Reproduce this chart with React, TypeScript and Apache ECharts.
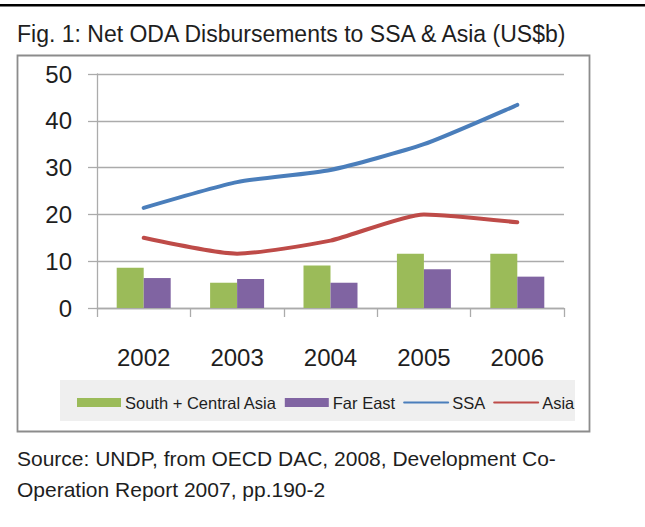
import React, { useEffect, useRef } from "react";
import * as echarts from "echarts";

const years = ["2002", "2003", "2004", "2005", "2006"];
const southCentralAsia = [8.6, 5.4, 9.1, 11.6, 11.6];
const farEast = [6.4, 6.2, 5.4, 8.3, 6.7];
const ssa = [21.4, 26.9, 29.5, 35.0, 43.4];
const asia = [15.0, 11.6, 14.4, 20.0, 18.3];
const yTicks = { min: 0, max: 50, interval: 10 };

const titleText = "Fig. 1: Net ODA Disbursements to SSA & Asia (US$b)";
const sourceLines = [
  "Source: UNDP, from OECD DAC, 2008, Development Co-",
  "Operation Report 2007, pp.190-2",
];

const FONT = "'Liberation Sans', Arial, sans-serif";
const TEXT = "#1e1e1e";
const GRID = "#ababab";

export default function App() {
  const ref = useRef<HTMLDivElement>(null);
  useEffect(() => {
    if (!ref.current) return;
    const chart = echarts.init(ref.current, undefined, { renderer: "svg" });
    chart.setOption({
      animation: false,
      backgroundColor: "#ffffff",
      textStyle: { fontFamily: FONT },
      grid: { left: 97, right: 81, top: 74, bottom: 219, containLabel: false },
      legend: {
        left: 72,
        top: 389,
        itemWidth: 44,
        itemHeight: 9,
        itemGap: 8,
        textStyle: { fontFamily: FONT, fontSize: 16.5, color: TEXT, padding: [0, 0, 0, -1] },
        data: [
          { name: "South + Central Asia", icon: "rect" },
          { name: "Far East", icon: "rect" },
          { name: "SSA", itemStyle: { opacity: 0 }, lineStyle: { width: 2 } },
          { name: "Asia", itemStyle: { opacity: 0 }, lineStyle: { width: 2 } },
        ],
      },
      xAxis: {
        type: "category",
        data: years,
        boundaryGap: true,
        axisLine: { show: true, lineStyle: { color: GRID, width: 1.3 } },
        axisTick: { show: true, length: 9, lineStyle: { color: GRID, width: 1.3 } },
        axisLabel: { margin: 37, fontSize: 24, color: TEXT, fontFamily: FONT },
      },
      yAxis: {
        type: "value",
        min: yTicks.min,
        max: yTicks.max,
        interval: yTicks.interval,
        axisLine: { show: true, lineStyle: { color: GRID, width: 1.3 } },
        axisTick: { show: true, length: 9, lineStyle: { color: GRID, width: 1.3 } },
        splitLine: { show: true, lineStyle: { color: GRID, width: 1.3 } },
        axisLabel: { margin: 25, fontSize: 24, color: TEXT, fontFamily: FONT },
      },
      series: [
        {
          name: "South + Central Asia",
          type: "bar",
          data: southCentralAsia,
          barWidth: 27,
          barGap: "0%",
          itemStyle: { color: "#9bbb59" },
          z: 2,
        },
        {
          name: "Far East",
          type: "bar",
          data: farEast,
          barWidth: 27,
          barGap: "0%",
          itemStyle: { color: "#8064a2" },
          z: 2,
        },
        {
          name: "SSA",
          type: "line",
          data: ssa,
          smooth: 0.2,
          symbol: "none",
          lineStyle: { color: "#4a7ebb", width: 4, cap: "round", join: "round" },
          itemStyle: { color: "#4a7ebb" },
          z: 3,
        },
        {
          name: "Asia",
          type: "line",
          data: asia,
          smooth: 0.2,
          symbol: "none",
          lineStyle: { color: "#be4b48", width: 4, cap: "round", join: "round" },
          itemStyle: { color: "#be4b48" },
          z: 3,
        },
      ],
      graphic: [
        {
          type: "line",
          shape: { x1: 0, y1: 5.3, x2: 645, y2: 5.3 },
          style: { stroke: "#000000", lineWidth: 2.5 },
          silent: true,
        },
        {
          type: "text",
          left: 17,
          top: 22,
          style: { text: titleText, font: `23px ${FONT}`, fill: TEXT },
          silent: true,
        },
        {
          type: "rect",
          shape: { x: 17.5, y: 55.5, width: 572, height: 376 },
          style: { fill: "none", stroke: "#8c8c8c", lineWidth: 1.8 },
          silent: true,
          z: 0,
        },
        {
          type: "rect",
          shape: { x: 60, y: 380, width: 515, height: 41 },
          style: { fill: "#efefef" },
          silent: true,
          z: 0,
        },
        {
          type: "text",
          left: 17,
          top: 448,
          style: { text: sourceLines[0], font: `21px ${FONT}`, fill: TEXT },
          silent: true,
        },
        {
          type: "text",
          left: 17,
          top: 479,
          style: { text: sourceLines[1], font: `21px ${FONT}`, fill: TEXT },
          silent: true,
        },
      ],
    });
    return () => chart.dispose();
  }, []);
  return (
    <div
      ref={ref}
      style={{ position: "fixed", left: 0, top: 0, width: 645, height: 527 }}
    />
  );
}
